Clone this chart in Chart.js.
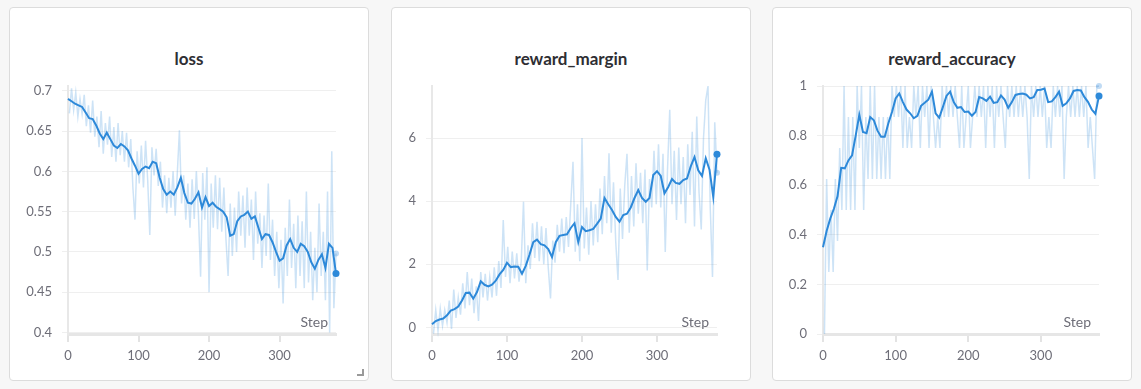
<!DOCTYPE html>
<html>
<head>
<meta charset="utf-8">
<script src="https://cdn.jsdelivr.net/npm/chart.js@4.4.0/dist/chart.umd.min.js"></script>
<style>
  html, body { margin: 0; padding: 0; background: #f7f7f7; }
  body { width: 1141px; height: 389px; position: relative; overflow: hidden; font-family: Lato, "Noto Sans", sans-serif; }
  .card { position: absolute; top: 7px; width: 358px; height: 372px; background: #fff; border: 1px solid #dcdcdc; border-radius: 4px; }
  .card h3 { position: absolute; left: 0; right: 0; top: 40px; margin: 0; height: 22px; line-height: 22px; text-align: center; font-size: 17px; font-weight: 700; color: #2e2e33; }
  .card canvas { position: absolute; left: 0; top: 0; }
  .grip { position: absolute; right: 4px; bottom: 4px; width: 5px; height: 5px; border-right: 2px solid #9a9a9a; border-bottom: 2px solid #9a9a9a; }
</style>
</head>
<body>
<div class="card" style="left:9px"><h3>loss</h3><canvas id="lossChart" width="358" height="372"></canvas><div class="grip"></div></div>
<div class="card" style="left:391px"><h3>reward_margin</h3><canvas id="marginChart" width="358" height="372"></canvas></div>
<div class="card" style="left:772px"><h3>reward_accuracy</h3><canvas id="accChart" width="358" height="372"></canvas></div>
<script>
const rawSteps = [];
for (let s = 2; s <= 380; s += 3) rawSteps.push(s);
const smoothSteps = [];
for (let s = 0; s <= 380; s += 5) smoothSteps.push(s);

const stepTicks = [0, 100, 200, 300];

// loss
const lossSmooth = [
  0.690, 0.687, 0.684, 0.682, 0.680, 0.673, 0.666, 0.665, 0.657, 0.647,
  0.640, 0.648, 0.640, 0.632, 0.629, 0.634, 0.631, 0.626, 0.616, 0.607,
  0.597, 0.603, 0.606, 0.604, 0.612, 0.610, 0.592, 0.578, 0.571, 0.575,
  0.571, 0.580, 0.592, 0.573, 0.561, 0.560, 0.566, 0.574, 0.555, 0.568,
  0.557, 0.561, 0.556, 0.553, 0.550, 0.543, 0.520, 0.522, 0.538, 0.544,
  0.546, 0.550, 0.541, 0.544, 0.530, 0.516, 0.522, 0.521, 0.512, 0.500,
  0.489, 0.492, 0.508, 0.516, 0.505, 0.500, 0.510, 0.507, 0.500, 0.487,
  0.479, 0.490, 0.497, 0.480, 0.510, 0.505, 0.473
];
const lossRaw = [
  0.672, 0.703, 0.676, 0.698, 0.668, 0.690, 0.671, 0.695, 0.656, 0.682,
  0.648, 0.688, 0.643, 0.668, 0.630, 0.675, 0.622, 0.660, 0.633, 0.668,
  0.618, 0.655, 0.612, 0.660, 0.620, 0.650, 0.612, 0.648, 0.605, 0.640,
  0.580, 0.540, 0.625, 0.585, 0.632, 0.580, 0.638, 0.589, 0.521, 0.630,
  0.595, 0.628, 0.582, 0.612, 0.555, 0.595, 0.548, 0.592, 0.555, 0.600,
  0.545, 0.598, 0.651, 0.560, 0.595, 0.540, 0.585, 0.530, 0.590, 0.541,
  0.600, 0.545, 0.469, 0.598, 0.540, 0.605, 0.450, 0.585, 0.530, 0.595,
  0.528, 0.592, 0.525, 0.580, 0.515, 0.470, 0.560, 0.495, 0.555, 0.500,
  0.575, 0.520, 0.570, 0.505, 0.580, 0.520, 0.565, 0.490, 0.575, 0.510,
  0.548, 0.480, 0.545, 0.495, 0.585, 0.490, 0.540, 0.470, 0.525, 0.455,
  0.515, 0.436, 0.530, 0.470, 0.565, 0.480, 0.535, 0.455, 0.545, 0.470,
  0.538, 0.455, 0.575, 0.462, 0.525, 0.440, 0.505, 0.450, 0.560, 0.470,
  0.525, 0.440, 0.575, 0.400, 0.625, 0.430, 0.498
];
const lossTicks = [0.4, 0.45, 0.5, 0.55, 0.6, 0.65, 0.7];

// reward_margin
const marginSmooth = [
  0.10, 0.20, 0.25, 0.28, 0.38, 0.53, 0.58, 0.66, 0.85, 1.09,
  1.10, 0.91, 1.12, 1.46, 1.35, 1.30, 1.35, 1.48, 1.68, 1.82,
  2.05, 1.91, 1.93, 1.92, 1.70, 1.95, 2.30, 2.70, 2.78, 2.64,
  2.60, 2.48, 2.23, 2.70, 2.90, 2.93, 2.95, 3.15, 3.30, 2.70,
  3.18, 3.05, 3.08, 3.12, 3.28, 3.45, 4.10, 3.90, 3.72, 3.50,
  3.35, 3.56, 3.60, 3.80, 4.10, 4.35, 4.10, 3.98, 4.10, 4.83,
  4.95, 4.80, 4.25, 4.45, 4.70, 4.58, 4.55, 4.67, 4.72, 5.10,
  5.40, 4.98, 4.80, 5.36, 5.00, 4.14, 5.49
];
const marginRaw = [
  -0.20, 0.55, -0.10, 0.60, 0.05, 0.55, 0.15, 0.85, -0.05, 1.20,
  0.30, 0.95, 0.40, 1.40, 0.60, 1.75, 0.70, 1.55, 0.45, 1.30,
  0.20, 1.75, 0.95, 1.70, 0.85, 1.60, 0.95, 1.90, 1.00, 2.10,
  1.25, 3.40, 1.60, 2.55, 1.40, 2.40, 1.55, 2.35, 1.45, 2.10,
  3.98, 1.40, 2.60, 1.85, 3.30, 2.20, 3.35, 2.10, 3.20, 2.00,
  3.15, 1.90, 0.92, 2.75, 2.05, 3.25, 2.40, 3.45, 2.35, 3.50,
  2.55, 3.90, 5.25, 2.40, 3.90, 2.10, 6.00, 2.50, 3.80, 2.30,
  4.00, 2.60, 3.90, 2.70, 4.40, 2.95, 4.80, 3.30, 5.52, 3.00,
  4.60, 2.70, 1.50, 4.40, 2.80, 4.50, 5.50, 3.00, 4.80, 3.20,
  5.20, 3.60, 4.90, 3.30, 5.00, 1.80, 4.70, 3.80, 5.60, 3.90,
  5.80, 3.80, 5.50, 2.39, 5.00, 6.90, 3.90, 5.60, 3.40, 5.70,
  3.90, 5.40, 3.30, 5.80, 4.20, 6.20, 3.20, 6.68, 4.30, 3.10,
  6.00, 7.20, 7.65, 3.80, 1.60, 6.50, 4.90
];
const marginTicks = [0, 2, 4, 6];

// reward_accuracy
const accSmooth = [
  0.350, 0.415, 0.465, 0.505, 0.555, 0.670, 0.668, 0.700, 0.720, 0.800,
  0.884, 0.815, 0.810, 0.875, 0.862, 0.820, 0.795, 0.795, 0.850, 0.895,
  0.950, 0.970, 0.935, 0.905, 0.890, 0.870, 0.880, 0.920, 0.932, 0.945,
  0.977, 0.890, 0.872, 0.915, 0.960, 0.977, 0.935, 0.912, 0.915, 0.895,
  0.897, 0.880, 0.895, 0.955, 0.950, 0.940, 0.957, 0.932, 0.935, 0.962,
  0.945, 0.912, 0.935, 0.964, 0.968, 0.970, 0.965, 0.950, 0.955, 0.984,
  0.985, 0.990, 0.935, 0.938, 0.955, 0.977, 0.920, 0.930, 0.950, 0.980,
  0.984, 0.982, 0.955, 0.935, 0.905, 0.888, 0.960
];
const accRaw = [
  0.000, 0.625, 0.250, 0.500, 0.250, 0.625, 0.375, 0.750, 0.500, 1.000,
  0.500, 0.875, 0.500, 0.875, 0.500, 1.000, 0.750, 1.000, 0.500, 0.875,
  0.625, 1.000, 0.625, 1.000, 0.625, 0.875, 0.625, 0.875, 0.625, 0.875,
  0.625, 1.000, 0.875, 1.000, 0.875, 1.000, 0.750, 1.000, 0.750, 0.875,
  0.750, 1.000, 0.875, 1.000, 0.750, 1.000, 0.875, 1.000, 0.750, 1.000,
  0.875, 0.750, 0.875, 0.750, 1.000, 0.875, 1.000, 0.875, 1.000, 0.875,
  1.000, 0.875, 0.750, 1.000, 0.750, 0.875, 1.000, 0.750, 0.875, 1.000,
  0.875, 1.000, 0.875, 1.000, 0.750, 1.000, 0.875, 1.000, 0.750, 1.000,
  0.875, 1.000, 0.875, 0.750, 1.000, 0.875, 1.000, 0.875, 1.000, 0.875,
  1.000, 0.875, 1.000, 0.875, 0.625, 1.000, 0.875, 1.000, 0.875, 1.000,
  0.875, 1.000, 0.750, 0.875, 0.750, 1.000, 0.875, 1.000, 0.875, 1.000,
  0.625, 0.875, 1.000, 0.875, 1.000, 0.875, 1.000, 0.875, 1.000, 0.875,
  1.000, 0.750, 0.875, 0.750, 0.625, 1.000, 1.000
];
const accTicks = [0, 0.2, 0.4, 0.6, 0.8, 1];

const LINE = 'rgb(45, 137, 217)';
const RAW = 'rgba(45, 137, 217, 0.24)';
const TICK = '#6e6e78';

Chart.defaults.font.family = 'Lato, "Noto Sans", sans-serif';
Chart.defaults.font.size = 13;
Chart.defaults.color = TICK;

// "Step" label sits inside the plot, bottom right
const stepLabel = {
  id: 'stepLabel',
  afterDraw(chart) {
    const { ctx, chartArea } = chart;
    ctx.save();
    ctx.font = '14px Lato, "Noto Sans", sans-serif';
    ctx.fillStyle = TICK;
    ctx.textAlign = 'right';
    ctx.textBaseline = 'middle';
    ctx.fillText('Step', chartArea.right - 8, chartArea.bottom - 12);
    ctx.restore();
  }
};

function points(steps, values) {
  return steps.map((s, i) => ({ x: s, y: values[i] }));
}

function makeChart(id, smooth, raw, yMin, yMax, yTicks, left, right) {
  const ctx = document.getElementById(id).getContext('2d');
  return new Chart(ctx, {
    type: 'line',
    data: {
      datasets: [{
        data: points(smoothSteps, smooth),
        borderColor: LINE,
        backgroundColor: LINE,
        borderWidth: 2,
        pointRadius: c => c.dataIndex === smooth.length - 1 ? 3.5 : 0,
        pointBorderWidth: 0,
        tension: 0,
        clip: false
      }, {
        data: points(rawSteps, raw),
        borderColor: RAW,
        backgroundColor: 'rgba(45, 137, 217, 0.3)',
        borderWidth: 1.5,
        pointRadius: c => c.dataIndex === raw.length - 1 ? 3 : 0,
        pointBorderWidth: 0,
        tension: 0,
        clip: false
      }]
    },
    options: {
      responsive: false,
      animation: false,
      devicePixelRatio: 1,
      layout: { padding: { top: 78, right: 358 - right, bottom: 0, left: 0 } },
      plugins: { legend: { display: false }, tooltip: { enabled: false } },
      scales: {
        x: {
          type: 'linear',
          min: 0,
          max: 380,
          afterBuildTicks: s => { s.ticks = stepTicks.map(v => ({ value: v })); },
          afterFit: s => { s.height = 46; },
          ticks: { padding: 6, maxRotation: 0, color: TICK },
          grid: { drawOnChartArea: false, drawTicks: true, tickLength: 8, color: '#e3e3e3', lineWidth: 2 },
          border: { display: true, color: '#e6e6e6', width: 3 }
        },
        y: {
          min: yMin,
          max: yMax,
          afterBuildTicks: s => { s.ticks = yTicks.map(v => ({ value: v })); },
          afterFit: s => { s.width = left; },
          ticks: { padding: 10, color: TICK, callback: v => String(v) },
          grid: { color: '#efefef', lineWidth: 1, tickLength: 6 },
          border: { display: true, color: '#e8e8e8', width: 2 }
        }
      }
    },
    plugins: [stepLabel]
  });
}

makeChart('lossChart', lossSmooth, lossRaw, 0.398, 0.706, lossTicks, 58, 326);
makeChart('marginChart', marginSmooth, marginRaw, -0.21, 7.65, marginTicks, 40, 325);
makeChart('accChart', accSmooth, accRaw, 0, 1, accTicks, 50, 326);
</script>
</body>
</html>
